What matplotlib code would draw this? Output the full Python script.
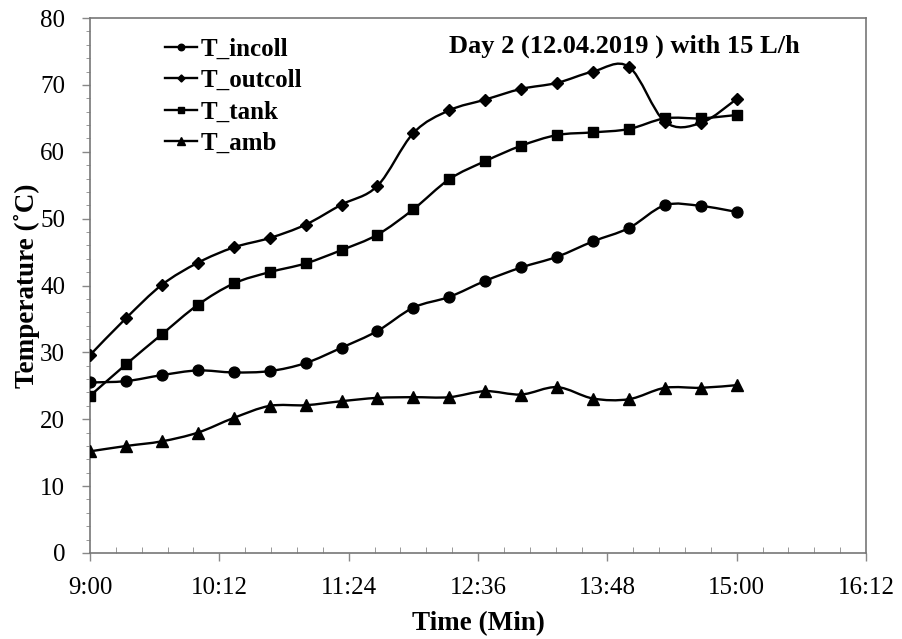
import numpy as np
import matplotlib
matplotlib.use("Agg")
import matplotlib.pyplot as plt
from matplotlib.path import Path
from matplotlib.patches import PathPatch
from matplotlib.ticker import MultipleLocator, FuncFormatter

# time in minutes after 9:00, one reading every 20 min
minutes = [0, 20, 40, 60, 80, 100, 120, 140, 160, 180, 200, 220, 240, 260,
           280, 300, 320, 340, 360]

t_incoll = [25.5, 25.7, 26.6, 27.3, 27.0, 27.2, 28.4, 30.7, 33.2, 36.7, 38.3,
            40.7, 42.7, 44.3, 46.6, 48.6, 52.0, 51.9, 51.0]
t_outcoll = [29.6, 35.1, 40.1, 43.4, 45.7, 47.1, 49.1, 52.1, 54.9, 62.8, 66.2,
             67.8, 69.4, 70.3, 72.0, 72.7, 64.5, 64.3, 67.9]
t_tank = [23.5, 28.2, 32.7, 37.1, 40.3, 42.0, 43.3, 45.3, 47.6, 51.4, 55.9,
          58.6, 60.9, 62.5, 62.9, 63.4, 65.0, 65.0, 65.5]
t_amb = [15.2, 16.0, 16.7, 18.0, 20.2, 22.0, 22.1, 22.7, 23.2, 23.3, 23.3,
         24.2, 23.7, 24.8, 23.1, 23.0, 24.7, 24.7, 25.1]

series = [("T_incoll", t_incoll, "o", 7.8),
          ("T_outcoll", t_outcoll, "D", 6),
          ("T_tank", t_tank, "s", 7.5),
          ("T_amb", t_amb, "^", 8.5)]

plt.rcParams["font.family"] = ["Liberation Serif", "DejaVu Serif"]


def smooth_path(x, y):
    # Excel style smoothed line: cubic bezier through every reading
    pts = np.column_stack([x, y]).astype(float)
    n = len(pts)
    verts = [pts[0]]
    codes = [Path.MOVETO]
    for i in range(n - 1):
        p0 = pts[i - 1] if i > 0 else pts[i]
        p1 = pts[i]
        p2 = pts[i + 1]
        p3 = pts[i + 2] if i + 2 < n else pts[i + 1]
        c1 = p1 + (p2 - p0) / 6.0
        c2 = p2 - (p3 - p1) / 6.0
        verts += [c1, c2, p2]
        codes += [Path.CURVE4] * 3
    return Path(verts, codes)


fig = plt.figure(figsize=(9.02, 6.39), dpi=100)
ax = fig.add_axes([0.0998, 0.1346, 0.8604, 0.8372])

for name, vals, mk, ms in series:
    ax.add_patch(PathPatch(smooth_path(minutes, vals), fill=False,
                           edgecolor="black", lw=1.7, zorder=2))
    ax.plot(minutes, vals, linestyle="none", marker=mk, ms=ms, color="black",
            zorder=3)
    # legend handle (line + small marker)
    ax.plot([], [], color="black", lw=1.7, marker=mk, ms=ms * 0.6, label=name)

ax.set_xlim(0, 432)
ax.set_ylim(0, 80)
ax.xaxis.set_major_locator(MultipleLocator(72))
ax.xaxis.set_minor_locator(MultipleLocator(14.4))
ax.yaxis.set_major_locator(MultipleLocator(10))
ax.yaxis.set_minor_locator(MultipleLocator(2))


def fmt_time(v, pos):
    m = int(round(v)) + 9 * 60
    return "%d:%02d" % (m // 60, m % 60)


ax.xaxis.set_major_formatter(FuncFormatter(fmt_time))

ax.tick_params(axis="both", which="major", labelsize=18, length=6,
               width=1, color="#888888", direction="out")
ax.tick_params(axis="x", which="minor", length=4, color="#888888",
               direction="in")
ax.tick_params(axis="y", which="minor", length=3, color="#888888",
               direction="out")
ax.tick_params(axis="x", which="major", pad=11)
ax.tick_params(axis="y", which="major", pad=12)
for s in ax.spines.values():
    s.set_color("#777777")
    s.set_linewidth(1.2)

ax.set_xlabel("Time (Min)", fontsize=19.5, fontweight="bold", labelpad=9)
ax.set_ylabel("Temperature (˚C)", fontsize=19.5, fontweight="bold", labelpad=0)

ax.text(0.689, 0.947, "Day 2 (12.04.2019 ) with 15 L/h", transform=ax.transAxes,
        ha="center", va="center", fontsize=19, fontweight="bold")

ax.legend(loc="upper left", bbox_to_anchor=(0.097, 0.963), frameon=False,
          handlelength=1.25, handletextpad=0.15, labelspacing=0.33,
          borderaxespad=0, borderpad=0,
          prop={"size": 18, "weight": "bold"})

fig.savefig("out.png", dpi=100)
